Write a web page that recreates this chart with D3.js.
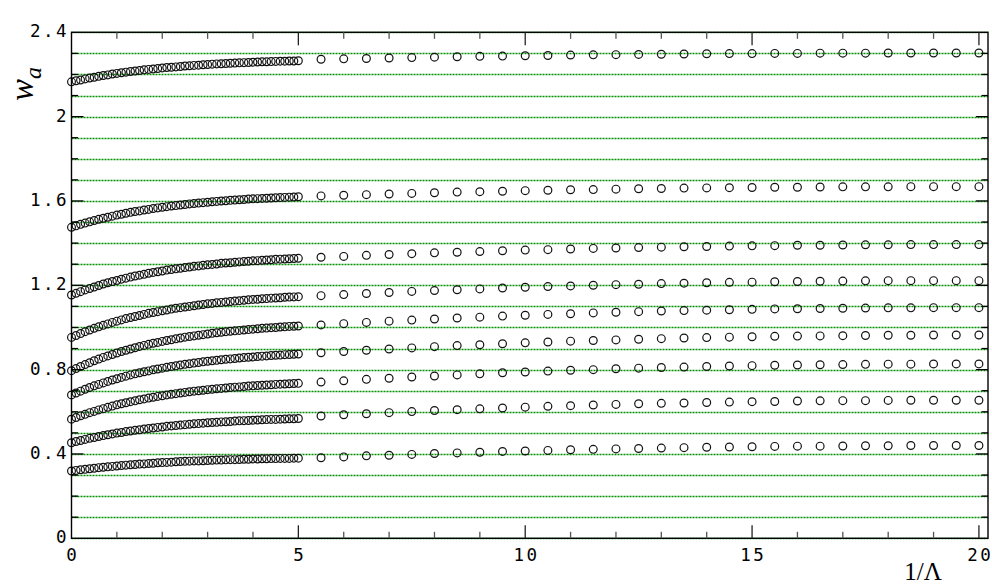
<!DOCTYPE html>
<html>
<head>
<meta charset="utf-8">
<script src="https://cdn.jsdelivr.net/npm/d3@7/dist/d3.min.js"></script>
<style>
  html, body { margin: 0; padding: 0; background: #fff; }
  svg { display: block; }
  .tick-label { font-family: "DejaVu Sans Mono", monospace; font-size: 17.5px; letter-spacing: 2.5px; fill: #000; }
  .axis-title { font-family: "Liberation Serif", "DejaVu Serif", serif; fill: #000; }
</style>
</head>
<body>
<svg id="chart" width="992" height="586"></svg>
<script>
// Sampling points in 1/Λ: fine steps up to 5, coarse steps beyond
const xDense = [0, 0.1, 0.2, 0.3, 0.4, 0.5, 0.6, 0.7, 0.8, 0.9,
  1.0, 1.1, 1.2, 1.3, 1.4, 1.5, 1.6, 1.7, 1.8, 1.9,
  2.0, 2.1, 2.2, 2.3, 2.4, 2.5, 2.6, 2.7, 2.8, 2.9,
  3.0, 3.1, 3.2, 3.3, 3.4, 3.5, 3.6, 3.7, 3.8, 3.9,
  4.0, 4.1, 4.2, 4.3, 4.4, 4.5, 4.6, 4.7, 4.8, 4.9, 5.0];
const xSparse = [5.5, 6, 6.5, 7, 7.5, 8, 8.5, 9, 9.5, 10,
  10.5, 11, 11.5, 12, 12.5, 13, 13.5, 14, 14.5, 15,
  15.5, 16, 16.5, 17, 17.5, 18, 18.5, 19, 19.5, 20];

// w_a for each branch, on the fine grid
const branch1Dense = [2.165, 2.170, 2.174, 2.179, 2.183, 2.187, 2.191, 2.195, 2.198, 2.202,
  2.205, 2.208, 2.211, 2.214, 2.216, 2.219, 2.222, 2.224, 2.226, 2.228,
  2.231, 2.233, 2.234, 2.236, 2.238, 2.240, 2.241, 2.243, 2.244, 2.246,
  2.247, 2.249, 2.250, 2.251, 2.252, 2.253, 2.254, 2.255, 2.256, 2.257,
  2.258, 2.259, 2.260, 2.260, 2.261, 2.262, 2.263, 2.263, 2.264, 2.264, 2.265];
const branch2Dense = [1.475, 1.482, 1.489, 1.495, 1.501, 1.507, 1.513, 1.518, 1.523, 1.528,
  1.533, 1.537, 1.542, 1.546, 1.550, 1.553, 1.557, 1.560, 1.564, 1.567,
  1.570, 1.573, 1.576, 1.578, 1.581, 1.583, 1.586, 1.588, 1.590, 1.592,
  1.594, 1.596, 1.598, 1.600, 1.601, 1.603, 1.604, 1.606, 1.607, 1.609,
  1.610, 1.611, 1.612, 1.613, 1.614, 1.615, 1.616, 1.617, 1.618, 1.619, 1.620];
const branch3Dense = [1.154, 1.162, 1.170, 1.178, 1.185, 1.192, 1.199, 1.206, 1.212, 1.218,
  1.223, 1.229, 1.234, 1.239, 1.244, 1.248, 1.252, 1.257, 1.261, 1.264,
  1.268, 1.272, 1.275, 1.278, 1.281, 1.284, 1.287, 1.290, 1.292, 1.295,
  1.297, 1.299, 1.301, 1.304, 1.306, 1.307, 1.309, 1.311, 1.313, 1.314,
  1.316, 1.317, 1.319, 1.320, 1.321, 1.323, 1.324, 1.325, 1.326, 1.327, 1.328];
const branch4Dense = [0.953, 0.962, 0.971, 0.980, 0.988, 0.996, 1.003, 1.010, 1.017, 1.024,
  1.030, 1.036, 1.042, 1.047, 1.052, 1.057, 1.062, 1.067, 1.071, 1.075,
  1.079, 1.083, 1.087, 1.091, 1.094, 1.097, 1.100, 1.103, 1.106, 1.109,
  1.112, 1.114, 1.117, 1.119, 1.121, 1.123, 1.125, 1.127, 1.129, 1.131,
  1.133, 1.134, 1.136, 1.137, 1.139, 1.140, 1.141, 1.143, 1.144, 1.145, 1.146];
const branch5Dense = [0.795, 0.805, 0.815, 0.824, 0.833, 0.842, 0.850, 0.858, 0.865, 0.872,
  0.879, 0.886, 0.892, 0.898, 0.904, 0.910, 0.915, 0.920, 0.925, 0.929,
  0.934, 0.938, 0.942, 0.946, 0.950, 0.954, 0.957, 0.960, 0.963, 0.966,
  0.969, 0.972, 0.975, 0.977, 0.980, 0.982, 0.984, 0.986, 0.988, 0.990,
  0.992, 0.994, 0.996, 0.997, 0.999, 1.000, 1.002, 1.003, 1.005, 1.006, 1.007];
const branch6Dense = [0.680, 0.689, 0.698, 0.707, 0.715, 0.723, 0.730, 0.737, 0.744, 0.751,
  0.757, 0.763, 0.769, 0.775, 0.780, 0.785, 0.790, 0.794, 0.799, 0.803,
  0.807, 0.811, 0.815, 0.818, 0.822, 0.825, 0.828, 0.831, 0.834, 0.837,
  0.840, 0.842, 0.844, 0.847, 0.849, 0.851, 0.853, 0.855, 0.857, 0.859,
  0.860, 0.862, 0.864, 0.865, 0.867, 0.868, 0.869, 0.871, 0.872, 0.873, 0.874];
const branch7Dense = [0.565, 0.573, 0.581, 0.588, 0.596, 0.602, 0.609, 0.615, 0.621, 0.627,
  0.633, 0.638, 0.643, 0.648, 0.652, 0.657, 0.661, 0.665, 0.669, 0.673,
  0.676, 0.680, 0.683, 0.686, 0.689, 0.692, 0.695, 0.698, 0.700, 0.702,
  0.705, 0.707, 0.709, 0.711, 0.713, 0.715, 0.717, 0.718, 0.720, 0.722,
  0.723, 0.725, 0.726, 0.727, 0.728, 0.730, 0.731, 0.732, 0.733, 0.734, 0.735];
const branch8Dense = [0.453, 0.459, 0.464, 0.469, 0.474, 0.478, 0.483, 0.487, 0.491, 0.495,
  0.499, 0.502, 0.506, 0.509, 0.512, 0.515, 0.518, 0.521, 0.523, 0.526,
  0.528, 0.531, 0.533, 0.535, 0.537, 0.539, 0.541, 0.543, 0.544, 0.546,
  0.548, 0.549, 0.550, 0.552, 0.553, 0.554, 0.556, 0.557, 0.558, 0.559,
  0.560, 0.561, 0.562, 0.563, 0.564, 0.564, 0.565, 0.566, 0.567, 0.567, 0.568];
const branch9Dense = [0.319, 0.322, 0.325, 0.327, 0.330, 0.332, 0.335, 0.337, 0.339, 0.341,
  0.343, 0.345, 0.347, 0.349, 0.350, 0.352, 0.353, 0.355, 0.356, 0.358,
  0.359, 0.360, 0.361, 0.363, 0.364, 0.365, 0.366, 0.367, 0.367, 0.368,
  0.369, 0.370, 0.371, 0.371, 0.372, 0.373, 0.373, 0.374, 0.375, 0.375,
  0.376, 0.376, 0.377, 0.377, 0.378, 0.378, 0.379, 0.379, 0.379, 0.380, 0.380];

// w_a for each branch, on the coarse grid
const branch1Sparse = [2.272, 2.274, 2.276, 2.278, 2.280, 2.282, 2.284, 2.286, 2.287, 2.289,
  2.290, 2.292, 2.293, 2.294, 2.295, 2.296, 2.297, 2.298, 2.299, 2.299,
  2.300, 2.300, 2.301, 2.301, 2.301, 2.302, 2.302, 2.302, 2.302, 2.302];
const branch2Sparse = [1.624, 1.627, 1.630, 1.633, 1.636, 1.639, 1.642, 1.644, 1.646, 1.649,
  1.651, 1.653, 1.654, 1.656, 1.658, 1.659, 1.661, 1.662, 1.663, 1.664,
  1.665, 1.665, 1.666, 1.667, 1.667, 1.667, 1.668, 1.668, 1.668, 1.668];
const branch3Sparse = [1.333, 1.337, 1.342, 1.346, 1.350, 1.354, 1.357, 1.360, 1.364, 1.367,
  1.369, 1.372, 1.375, 1.377, 1.379, 1.381, 1.383, 1.384, 1.386, 1.387,
  1.388, 1.390, 1.390, 1.391, 1.392, 1.392, 1.393, 1.393, 1.393, 1.393];
const branch4Sparse = [1.151, 1.156, 1.161, 1.166, 1.171, 1.175, 1.179, 1.183, 1.187, 1.191,
  1.194, 1.197, 1.200, 1.203, 1.205, 1.208, 1.210, 1.212, 1.214, 1.215,
  1.217, 1.218, 1.219, 1.220, 1.221, 1.222, 1.222, 1.222, 1.222, 1.222];
const branch5Sparse = [1.012, 1.018, 1.024, 1.030, 1.035, 1.040, 1.045, 1.049, 1.054, 1.058,
  1.062, 1.065, 1.069, 1.072, 1.075, 1.078, 1.080, 1.082, 1.084, 1.086,
  1.088, 1.089, 1.090, 1.091, 1.092, 1.093, 1.093, 1.094, 1.094, 1.094];
const branch6Sparse = [0.880, 0.886, 0.892, 0.898, 0.903, 0.909, 0.914, 0.918, 0.923, 0.927,
  0.931, 0.935, 0.938, 0.941, 0.944, 0.947, 0.950, 0.952, 0.954, 0.956,
  0.958, 0.959, 0.960, 0.961, 0.962, 0.963, 0.963, 0.964, 0.964, 0.964];
const branch7Sparse = [0.741, 0.747, 0.754, 0.759, 0.765, 0.770, 0.775, 0.780, 0.785, 0.789,
  0.793, 0.797, 0.800, 0.804, 0.807, 0.810, 0.812, 0.815, 0.817, 0.819,
  0.821, 0.822, 0.823, 0.824, 0.825, 0.826, 0.826, 0.827, 0.827, 0.827];
const branch8Sparse = [0.580, 0.586, 0.591, 0.596, 0.601, 0.606, 0.610, 0.614, 0.618, 0.622,
  0.626, 0.629, 0.632, 0.635, 0.638, 0.640, 0.642, 0.644, 0.646, 0.648,
  0.649, 0.651, 0.652, 0.653, 0.653, 0.654, 0.655, 0.655, 0.655, 0.655];
const branch9Sparse = [0.382, 0.386, 0.391, 0.394, 0.398, 0.402, 0.405, 0.408, 0.412, 0.414,
  0.417, 0.420, 0.422, 0.424, 0.426, 0.428, 0.430, 0.432, 0.433, 0.434,
  0.436, 0.437, 0.437, 0.438, 0.439, 0.439, 0.440, 0.440, 0.440, 0.440];

// Reference levels (dotted horizontal lines) and axis ticks
const refLevels = [0, 0.1, 0.2, 0.3, 0.4, 0.5, 0.6, 0.7, 0.8, 0.9, 1.0, 1.1, 1.2,
  1.3, 1.4, 1.5, 1.6, 1.7, 1.8, 1.9, 2.0, 2.1, 2.2, 2.3, 2.4];
const xMajorTicks = [0, 5, 10, 15, 20];
const xTickLabels = ["0", "5", "10", "15", "20"];
const xMinorTicks = [1, 2, 3, 4, 6, 7, 8, 9, 11, 12, 13, 14, 16, 17, 18, 19];
const yMajorTicks = [0, 0.4, 0.8, 1.2, 1.6, 2.0, 2.4];
const yTickLabels = ["0", "0.4", "0.8", "1.2", "1.6", "2", "2.4"];
const yMinorTicks = [0.1, 0.2, 0.3, 0.5, 0.6, 0.7, 0.9, 1.0, 1.1, 1.3, 1.4, 1.5,
  1.7, 1.8, 1.9, 2.1, 2.2, 2.3];

const branches = [
  [branch1Dense, branch1Sparse], [branch2Dense, branch2Sparse], [branch3Dense, branch3Sparse],
  [branch4Dense, branch4Sparse], [branch5Dense, branch5Sparse], [branch6Dense, branch6Sparse],
  [branch7Dense, branch7Sparse], [branch8Dense, branch8Sparse], [branch9Dense, branch9Sparse]
];

const svg = d3.select("#chart");
const plotLeft = 71.5, plotRight = 988, plotTop = 32.3, plotBottom = 538.3;

const x = d3.scaleLinear().domain([0, 20.2]).range([plotLeft, plotRight]);
const y = d3.scaleLinear().domain([0, 2.4]).range([plotBottom, plotTop]);

// Dotted green reference lines
svg.append("g")
  .selectAll("line")
  .data(refLevels)
  .join("line")
  .attr("x1", plotLeft).attr("x2", plotRight)
  .attr("y1", d => Math.round(y(d)) + 0.5).attr("y2", d => Math.round(y(d)) + 0.5)
  .attr("stroke", "#009000")
  .attr("stroke-width", 1.4)
  .attr("stroke-dasharray", "2,1");

// Open circle markers for every branch
const points = [];
branches.forEach(([dense, sparse]) => {
  dense.forEach((v, i) => points.push([xDense[i], v]));
  sparse.forEach((v, i) => points.push([xSparse[i], v]));
});
svg.append("g")
  .selectAll("circle")
  .data(points)
  .join("circle")
  .attr("cx", d => x(d[0]))
  .attr("cy", d => y(d[1]))
  .attr("r", 3.9)
  .attr("fill", "none")
  .attr("stroke", "#111")
  .attr("stroke-width", 1.2);

// Frame
svg.append("rect")
  .attr("x", plotLeft).attr("y", plotTop)
  .attr("width", plotRight - plotLeft).attr("height", plotBottom - plotTop)
  .attr("fill", "none").attr("stroke", "#000").attr("stroke-width", 1.4);

// Inward ticks on all four sides
const tickG = svg.append("g");
function vTicks(values, len, color) {
  tickG.append("g").selectAll("line").data(values).join("line")
    .attr("x1", d => x(d)).attr("x2", d => x(d))
    .attr("y1", plotBottom).attr("y2", plotBottom - len)
    .attr("stroke", color).attr("stroke-width", 1.3);
  tickG.append("g").selectAll("line").data(values).join("line")
    .attr("x1", d => x(d)).attr("x2", d => x(d))
    .attr("y1", plotTop).attr("y2", plotTop + len)
    .attr("stroke", color).attr("stroke-width", 1.3);
}
function hTicks(values, len, color) {
  tickG.append("g").selectAll("line").data(values).join("line")
    .attr("x1", plotLeft).attr("x2", plotLeft + len)
    .attr("y1", d => y(d)).attr("y2", d => y(d))
    .attr("stroke", color).attr("stroke-width", 1.3);
  tickG.append("g").selectAll("line").data(values).join("line")
    .attr("x1", plotRight).attr("x2", plotRight - len)
    .attr("y1", d => y(d)).attr("y2", d => y(d))
    .attr("stroke", color).attr("stroke-width", 1.3);
}
vTicks(xMajorTicks.filter(d => d > 0), 13, "#222");
vTicks(xMinorTicks, 6.5, "#555");
hTicks(yMajorTicks.filter(d => d > 0 && d < 2.4), 12, "#000");
hTicks(yMinorTicks, 6.5, "#000");

// Tick labels
svg.append("g").selectAll("text")
  .data(xMajorTicks)
  .join("text")
  .attr("class", "tick-label")
  .attr("x", d => x(d) + 1.3)
  .attr("y", plotBottom + 18)
  .attr("dominant-baseline", "middle")
  .attr("text-anchor", "middle")
  .text((d, i) => xTickLabels[i]);

svg.append("g").selectAll("text")
  .data(yMajorTicks)
  .join("text")
  .attr("class", "tick-label")
  .attr("x", plotLeft - 2.5)
  .attr("y", d => y(d))
  .attr("dominant-baseline", "middle")
  .attr("text-anchor", "end")
  .text((d, i) => yTickLabels[i]);

// Axis titles
svg.append("text")
  .attr("class", "axis-title")
  .attr("x", 923).attr("y", 580)
  .attr("text-anchor", "middle")
  .attr("font-size", 25)
  .text("1/Λ");

const yTitle = svg.append("text")
  .attr("class", "axis-title")
  .attr("transform", "translate(33,101) rotate(-90)")
  .attr("font-style", "italic");
yTitle.append("tspan").attr("font-size", 33).text("w");
yTitle.append("tspan").attr("font-size", 24).attr("dy", 8).text("a");
</script>
</body>
</html>
